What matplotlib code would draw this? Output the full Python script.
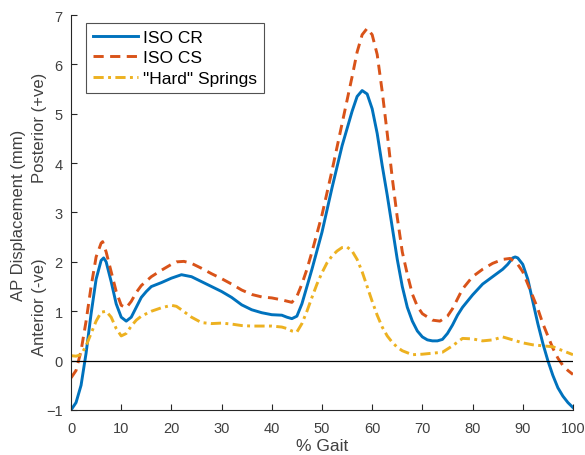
import numpy as np
import matplotlib
matplotlib.use("Agg")
import matplotlib.pyplot as plt

plt.rcParams['font.family'] = ['Liberation Sans', 'DejaVu Sans']

# % gait sample points and AP displacement (mm)
gait_cr = [0, 1, 2, 3, 4, 5, 6, 6.5, 7, 8, 9, 10, 11, 12, 13, 14, 15, 16, 18, 20, 22, 24, 26, 28, 30,
           32, 34, 36, 38, 40, 42, 43, 44, 45, 46, 47, 48, 50, 52, 54, 56, 57, 58, 59, 60, 61, 62, 63,
           64, 65, 66, 67, 68, 69, 70, 71, 72, 73, 74, 75, 76, 77, 78, 80, 82, 84, 86, 87, 88, 88.5,
           89, 90, 91, 92, 93, 94, 95, 96, 97, 98, 99, 100]
iso_cr = [-1.0, -0.85, -0.5, 0.15, 0.95, 1.65, 2.03, 2.08, 2.0, 1.6, 1.15, 0.88, 0.8, 0.88, 1.08, 1.28,
          1.4, 1.5, 1.58, 1.67, 1.74, 1.7, 1.6, 1.5, 1.4, 1.28, 1.13, 1.03, 0.97, 0.93, 0.92, 0.88,
          0.85, 0.9, 1.15, 1.5, 1.85, 2.6, 3.5, 4.35, 5.05, 5.35, 5.47, 5.4, 5.1, 4.6, 3.95, 3.35,
          2.7, 2.05, 1.5, 1.08, 0.8, 0.6, 0.48, 0.42, 0.4, 0.4, 0.43, 0.55, 0.72, 0.92, 1.08, 1.33,
          1.55, 1.7, 1.85, 1.95, 2.08, 2.1, 2.08, 1.95, 1.65, 1.2, 0.75, 0.35, 0.0, -0.3, -0.55,
          -0.72, -0.85, -0.95]

gait_cs = [0, 1, 2, 3, 4, 5, 6, 6.3, 7, 8, 9, 10, 11, 12, 13, 14, 16, 18, 20, 21, 22.5, 24, 26, 28,
           30, 32, 34, 36, 38, 40, 42, 44, 45, 46, 47, 48, 50, 52, 54, 56, 57, 58, 59, 60, 61, 62,
           63, 64, 65, 66, 67, 68, 69, 70, 72, 73.5, 75, 76, 78, 80, 82, 84, 86, 87.5, 89, 90, 91,
           92, 93, 94, 95, 96, 97, 98, 99, 100]
iso_cs = [-0.35, -0.2, 0.2, 0.8, 1.5, 2.1, 2.38, 2.41, 2.2, 1.8, 1.4, 1.12, 1.07, 1.2, 1.38, 1.52,
          1.7, 1.83, 1.95, 2.0, 2.01, 1.97, 1.87, 1.76, 1.66, 1.55, 1.43, 1.34, 1.29, 1.27, 1.23,
          1.18, 1.3, 1.55, 1.85, 2.2, 2.95, 3.85, 4.8, 5.75, 6.25, 6.6, 6.73, 6.6, 6.2, 5.45, 4.6,
          3.7, 2.9, 2.2, 1.75, 1.35, 1.1, 0.95, 0.82, 0.8, 0.9, 1.05, 1.45, 1.7, 1.85, 1.97, 2.05,
          2.07, 1.95, 1.8, 1.55, 1.3, 1.05, 0.75, 0.5, 0.25, 0.05, -0.1, -0.2, -0.28]

gait_hs = [0, 1, 2, 3, 4, 5, 6, 7, 8, 9, 10, 11, 12, 13, 14, 16, 18, 20, 21, 22, 24, 26, 28, 30, 32,
           34, 36, 38, 40, 42, 43, 44, 45, 46, 47, 48, 49, 50, 51, 52, 53, 54, 55, 56, 57, 58, 59,
           60, 61, 62, 63, 64, 65, 66, 68, 70, 72, 74, 76, 78, 80, 82, 84, 86, 88, 90, 92, 94, 96,
           98, 100]
hard_springs = [0.1, 0.09, 0.12, 0.3, 0.55, 0.8, 0.98, 1.0, 0.88, 0.65, 0.5, 0.55, 0.7, 0.82, 0.9,
                1.0, 1.07, 1.12, 1.1, 1.03, 0.88, 0.77, 0.75, 0.76, 0.74, 0.71, 0.7, 0.7, 0.7, 0.68,
                0.65, 0.6, 0.58, 0.75, 1.0, 1.28, 1.55, 1.78, 1.98, 2.12, 2.22, 2.29, 2.3, 2.22, 2.05,
                1.8, 1.5, 1.2, 0.92, 0.68, 0.5, 0.37, 0.27, 0.2, 0.12, 0.13, 0.15, 0.17, 0.3, 0.45,
                0.44, 0.4, 0.42, 0.48, 0.42, 0.36, 0.32, 0.3, 0.28, 0.2, 0.12]

fig = plt.figure(figsize=(5.85, 4.56), dpi=100)
ax = fig.add_axes([0.1214, 0.0987, 0.858, 0.8662])

ax.plot(gait_cr, iso_cr, color='#0072BD', lw=2.1, ls='-', label='ISO CR')
ax.plot(gait_cs, iso_cs, color='#D95319', lw=2.1, ls=(0, (3.5, 2.2)), label='ISO CS')
ax.plot(gait_hs, hard_springs, color='#EDB120', lw=2.1, ls=(0, (3.5, 1.5, 1, 1.5)), label='"Hard" Springs')
ax.axhline(0, color='black', lw=0.9)

ax.set_xlim(0, 100)
ax.set_ylim(-1, 7)
ax.set_xticks(np.arange(0, 101, 10))
ax.set_yticks(np.arange(-1, 8, 1))
ax.spines['top'].set_visible(False)
ax.spines['right'].set_visible(False)
for s in ['left', 'bottom']:
    ax.spines[s].set_color('#262626')
    ax.spines[s].set_linewidth(0.8)
ax.tick_params(direction='in', length=4, width=0.8, colors='#262626', labelsize=10.5, labelcolor='#404040')
ax.tick_params(axis='x', pad=8)
ax.tick_params(axis='y', pad=6)

ax.set_xlabel('% Gait', fontsize=12.5, color='#404040', labelpad=2)

# two-line y label: main label plus anterior/posterior hints
fig.text(0.032, 0.528, 'AP Displacement (mm)', rotation=90, ha='center', va='center',
         fontsize=12, color='#404040')
fig.text(0.068, 0.327, 'Anterior (-ve)', rotation=90, ha='center', va='center',
         fontsize=12, color='#404040')
fig.text(0.068, 0.719, 'Posterior (+ve)', rotation=90, ha='center', va='center',
         fontsize=12, color='#404040')

leg = ax.legend(loc='upper left', bbox_to_anchor=(0.03, 0.98), fontsize=12.5, frameon=True,
                fancybox=False, edgecolor='#262626', handlelength=2.6, borderpad=0.4,
                labelspacing=0.3, handletextpad=0.3, borderaxespad=0)
leg.get_frame().set_linewidth(0.8)

fig.savefig('out.png', dpi=100)
